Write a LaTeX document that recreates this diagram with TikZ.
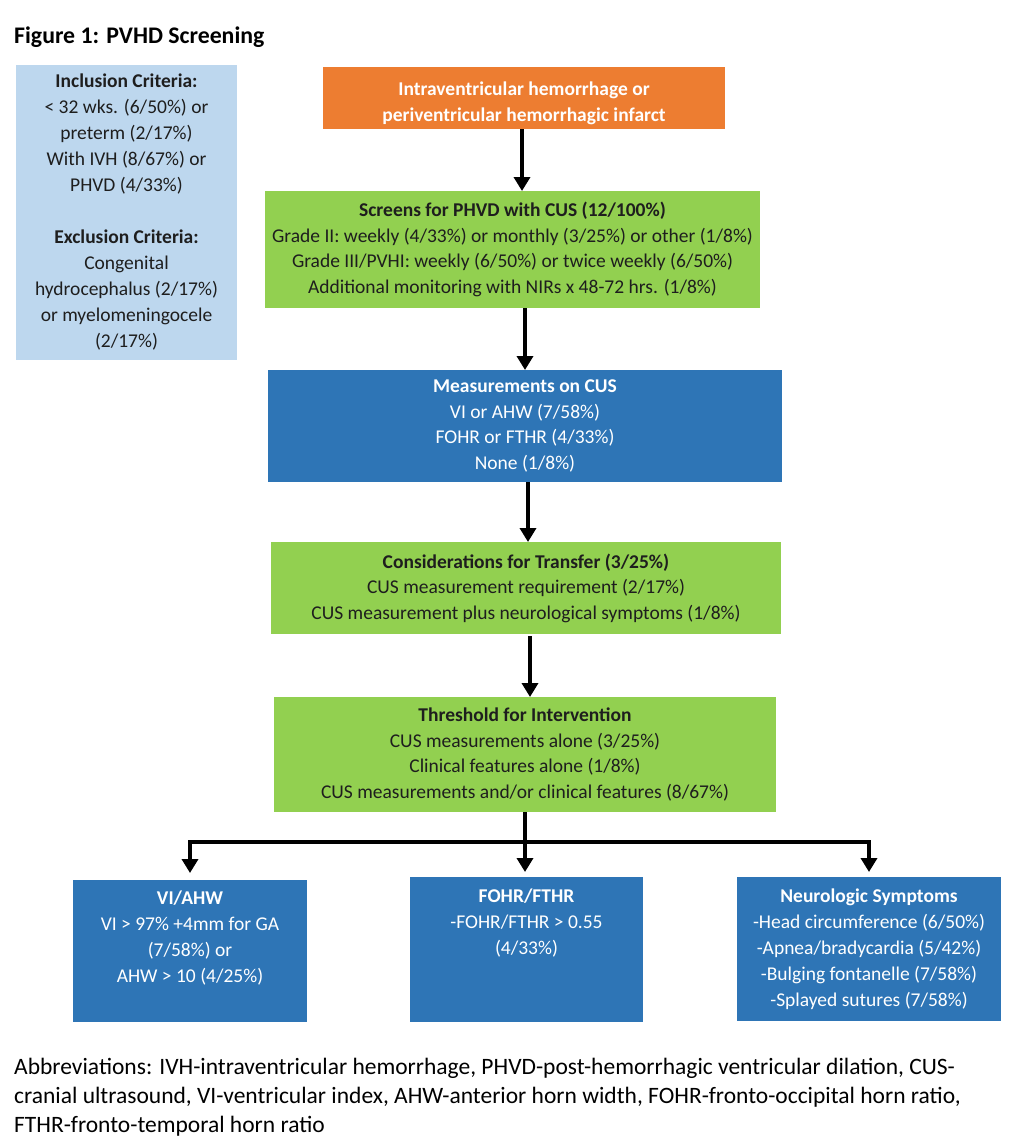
\documentclass[tikz,border=0pt]{standalone}
\usepackage{fontspec}
\setmainfont{Carlito}
\usetikzlibrary{arrows.meta,calc}
\definecolor{orangebox}{HTML}{ED7D31}
\definecolor{greenbox}{HTML}{92D050}
\definecolor{bluebox}{HTML}{2E75B6}
\definecolor{lightbox}{HTML}{BDD7EE}
\definecolor{darktext}{HTML}{1E1E1E}
\tikzset{
  box/.style={rectangle, inner sep=0pt, outer sep=0pt, align=center, font=\fontsize{19.5}{25.5}\selectfont},
  obox/.style={box, fill=orangebox, text=white},
  gbox/.style={box, fill=greenbox, text=darktext},
  bbox/.style={box, fill=bluebox, text=white},
  lbox/.style={box, fill=lightbox, text=darktext, font=\fontsize{19.5}{26}\selectfont},
  btext/.style={box, text=white, anchor=north, font=\fontsize{19.5}{26}\selectfont},
  conn/.style={line width=3.6pt, -{Triangle[width=16pt,length=14pt]}},
  plain/.style={line width=3.6pt},
}
\begin{document}
\begin{tikzpicture}[x=1pt,y=-1pt]
\useasboundingbox (0,0) rectangle (1016,1144);
\fill[white] (0,0) rectangle (1016,1144);

\node[anchor=west, font=\fontsize{23.8}{28}\selectfont\bfseries, inner sep=0pt] (title) at (14,37) {Figure 1: PVHD Screening};

\node[lbox, minimum width=221pt, minimum height=295pt] (left) at (126.5,212.5)
 {\textbf{Inclusion Criteria:}\\ {<} 32 wks. (6/50\%) or\\ preterm (2/17\%)\\ With IVH (8/67\%) or\\ PHVD (4/33\%)\\[26pt]
  \textbf{Exclusion Criteria:}\\ Congenital\\ hydrocephalus (2/17\%)\\ or myelomeningocele\\ (2/17\%)};

\node[obox, minimum width=402pt, minimum height=62pt] (orange) at (524,98)
 {\rule{0pt}{24pt}\textbf{Intraventricular hemorrhage or}\\ \textbf{periventricular hemorrhagic infarct}};

\node[gbox, minimum width=495pt, minimum height=117pt] (g1) at (512.5,249.5)
 {\textbf{Screens for PHVD with CUS (12/100\%)}\\ Grade II: weekly (4/33\%) or monthly (3/25\%) or other (1/8\%)\\ Grade III/PVHI: weekly (6/50\%) or twice weekly (6/50\%)\\ Additional monitoring with NIRs x 48-72 hrs. (1/8\%)};

\node[bbox, minimum width=514pt, minimum height=112pt] (m1) at (525,426)
 {\textbf{Measurements on CUS}\\ VI or AHW (7/58\%)\\ FOHR or FTHR (4/33\%)\\ None (1/8\%)};

\node[gbox, minimum width=510pt, minimum height=92pt] (g2) at (526,588)
 {\textbf{Considerations for Transfer (3/25\%)}\\ CUS measurement requirement (2/17\%)\\ CUS measurement plus neurological symptoms (1/8\%)};

\node[gbox, minimum width=502pt, minimum height=115pt] (g3) at (525,754.5)
 {\textbf{Threshold for Intervention}\\ CUS measurements alone (3/25\%)\\ Clinical features alone (1/8\%)\\ CUS measurements and/or clinical features (8/67\%)};

\node[bbox, minimum width=234pt, minimum height=142pt] (b1) at (190,951) {};
\node[bbox, minimum width=233pt, minimum height=145pt] (b2) at (526.5,949.5) {};
\node[bbox, minimum width=264pt, minimum height=144pt] (b3) at (869,949) {};

\node[btext] (b1t) at ($(b1.north)+(0,11)$)
 {\textbf{VI/AHW}\\ VI {>} 97\% +4mm for GA\\ (7/58\%) or\\ AHW {>} 10 (4/25\%)};
\node[btext] (b2t) at ($(b2.north)+(0,12)$)
 {\textbf{FOHR/FTHR}\\ -FOHR/FTHR {>} 0.55\\ (4/33\%)};
\node[btext] (b3t) at ($(b3.north)+(0,12)$)
 {\textbf{Neurologic Symptoms}\\ -Head circumference (6/50\%)\\ -Apnea/bradycardia (5/42\%)\\ -Bulging fontanelle (7/58\%)\\ -Splayed sutures (7/58\%)};

% connectors
\draw[conn] (orange.south -| 522,0) -- (g1.north -| 522,0);
\draw[conn] (g1.south -| 525,0) -- (m1.north -| 525,0);
\draw[conn] (m1.south -| 528,0) -- (g2.north -| 528,0);
\draw[conn] ($(g2.south -| 530,0)+(0,2)$) -- (g3.north -| 530,0);
\coordinate (hj) at (525,842);
\draw[conn, shorten >=5pt] (g3.south) -- (b2.north -| g3.south);
\draw[plain, line cap=rect] (hj -| b1.north) -- (hj -| b3.north);
\draw[conn, shorten >=7pt] (hj -| b1.north) -- (b1.north);
\draw[conn, shorten >=5pt] (hj -| b3.north) -- (b3.north);

\node[anchor=north west, align=left, inner sep=0pt, font=\fontsize{23.5}{29}\selectfont] (abbr) at (14,1058)
 {Abbreviations: IVH-intraventricular hemorrhage, PHVD-post-hemorrhagic ventricular dilation, CUS-\\
  cranial ultrasound, VI-ventricular index, AHW-anterior horn width, FOHR-fronto-occipital horn ratio,\\
  FTHR-fronto-temporal horn ratio};
\end{tikzpicture}
\end{document}
